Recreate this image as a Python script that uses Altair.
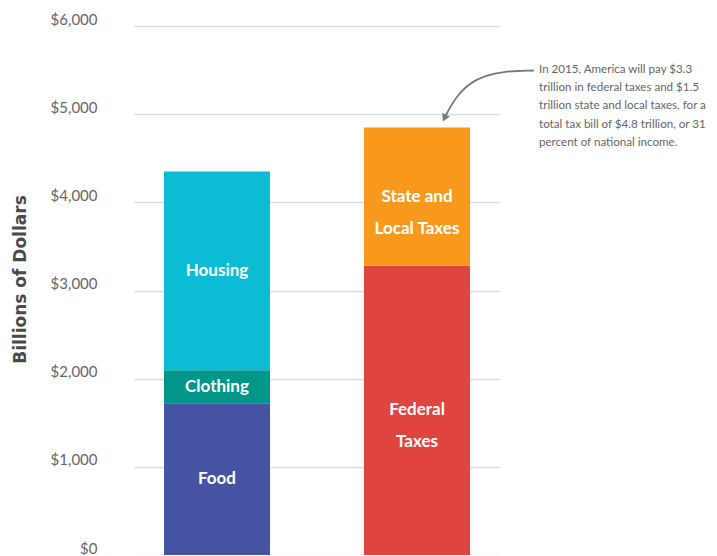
import altair as alt
import pandas as pd

# ---- data ----
bars = ["Spending", "Spending", "Spending", "Taxes", "Taxes"]
segments = ["Food", "Clothing", "Housing", "Federal Taxes", "State and Local Taxes"]
values = [1720, 375, 2255, 3280, 1570]
label_lines = [["Food"], ["Clothing"], ["Housing"], ["Federal", "Taxes"], ["State and", "Local Taxes"]]
colors = ["#4453a2", "#00968a", "#0bbcd4", "#e0443f", "#f8991e"]
y_ticks = [0, 1000, 2000, 3000, 4000, 5000, 6000]
note_lines = [
    "In 2015, America will pay $3.3",
    "trillion in federal taxes and $1.5",
    "trillion state and local taxes, for a",
    "total tax bill of $4.8 trillion, or 31",
    "percent of national income.",
]
# annotation arrow path (plot-pixel space)
arrow_x = [400, 370, 341, 322, 311]
arrow_y = [44.5, 45, 52, 70, 91]

W, H = 366, 529

df = pd.DataFrame({"bar": bars, "segment": segments, "value": values,
                   "lines": label_lines, "order": list(range(len(values)))})
df["y0"] = df.groupby("bar")["value"].cumsum() - df["value"]
df["y1"] = df["y0"] + df["value"]
df["mid"] = (df["y0"] + df["y1"]) / 2

xscale = alt.Scale(paddingInner=0.47, paddingOuter=0.15)
yscale = alt.Scale(domain=[0, 6000], nice=False)

base = alt.Chart(df)

rects = base.mark_bar().encode(
    x=alt.X("bar:N", scale=xscale, axis=None),
    y=alt.Y("y0:Q", scale=yscale,
            axis=alt.Axis(values=y_ticks, format="$,.0f", title="Billions of Dollars",
                          domain=False, ticks=False, labelPadding=37, labelOffset=-7,
                          labelFont="Lato", labelFontSize=15, labelColor="#666666",
                          gridColor="#dddddd", gridWidth=1.5,
                          titleFont="DejaVu Sans", titleFontWeight="bold", titleFontSize=17,
                          titleColor="#4a4a4a", titleX=-114, titleY=253,
                          titleBaseline="middle", titleAlign="center")),
    y2="y1:Q",
    color=alt.Color("segment:N", scale=alt.Scale(domain=segments, range=colors), legend=None),
)

labels = base.mark_text(font="Lato", fontWeight="bold", fontSize=17, color="white",
                        lineHeight=32, baseline="middle").encode(
    x=alt.X("bar:N", scale=xscale, axis=None),
    y=alt.Y("mid:Q", scale=yscale),
    text="lines",
)

note_df = pd.DataFrame({"t": [note_lines]})
note = alt.Chart(note_df).mark_text(font="Lato", fontSize=11.6, color="#666666", align="left",
                                    baseline="top", lineHeight=18.2).encode(
    x=alt.value(405), y=alt.value(38), text="t")

arrow_df = pd.DataFrame({"ax": arrow_x, "ay": arrow_y, "o": list(range(len(arrow_x)))})
axs = alt.Scale(domain=[0, W], range=[0, W])
ays = alt.Scale(domain=[0, H], range=[0, H])
arrow_line = alt.Chart(arrow_df).mark_line(color="#7a7a7a", strokeWidth=1.8, interpolate="basis").encode(
    x=alt.X("ax:Q", scale=axs, axis=None),
    y=alt.Y("ay:Q", scale=ays, axis=None),
    order="o:Q",
)
head_df = arrow_df.tail(1)
arrow_head = alt.Chart(head_df).mark_point(shape="triangle", filled=True, color="#7a7a7a",
                                            size=70, angle=205, opacity=1).encode(
    x=alt.X("ax:Q", scale=axs, axis=None),
    y=alt.Y("ay:Q", scale=ays, axis=None),
)

bars_layer = alt.layer(rects, labels)
arrow_layer = alt.layer(arrow_line, arrow_head)

chart = alt.layer(bars_layer, arrow_layer, note).resolve_scale(x="independent", y="independent").properties(
    width=W, height=H,
    autosize=alt.AutoSizeParams(type="none"),
    padding={"left": 126, "top": 18, "right": 209, "bottom": 0},
).configure_view(stroke=None)

chart.save("out.html", embed_options={"renderer": "svg", "actions": False})
